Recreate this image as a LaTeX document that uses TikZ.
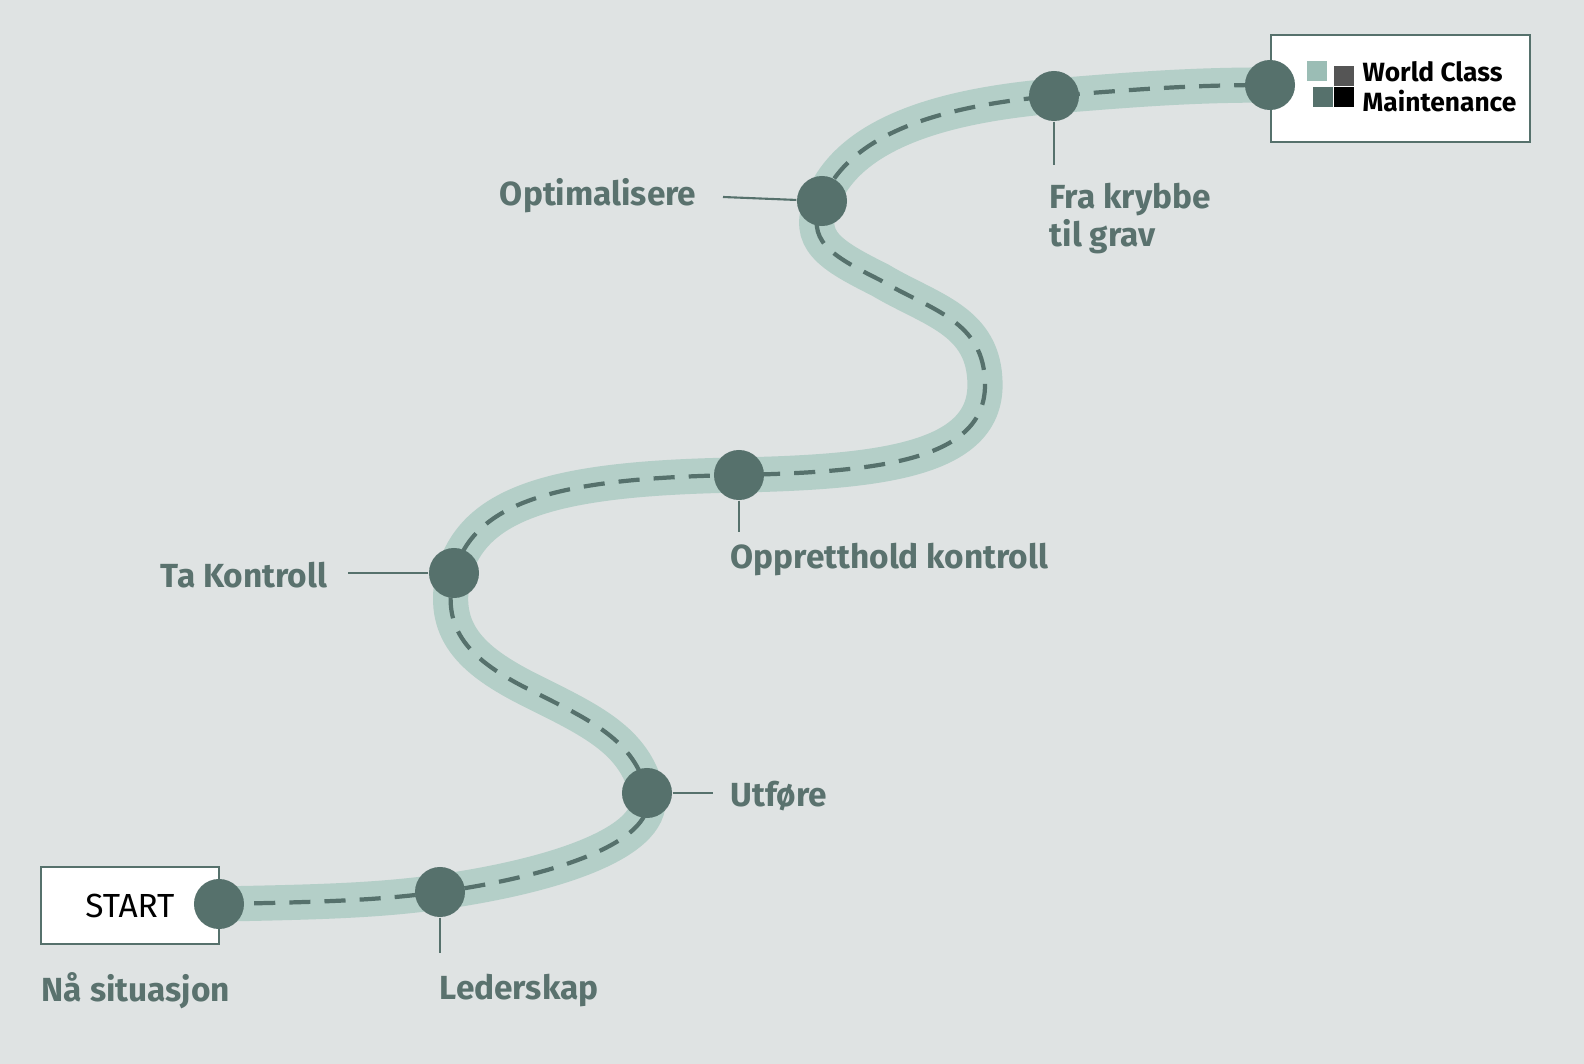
\documentclass[tikz,border=0pt]{standalone}
\usepackage{fontspec}
\setmainfont{Fira Sans}
\usetikzlibrary{positioning}
\definecolor{bg}{HTML}{DFE3E3}
\definecolor{band}{HTML}{B4CFC8}
\definecolor{dotc}{HTML}{56716C}
\definecolor{txt}{HTML}{5A726E}
\definecolor{sqlight}{HTML}{9BBDB5}
\definecolor{sqgrey}{HTML}{555555}
\tikzset{
  dot/.style={circle, fill=dotc, minimum size=0.5cm, inner sep=0pt},
  lbl/.style={text=txt, font=\fontsize{9.5}{11}\selectfont\bfseries, inner sep=0pt},
  leader/.style={draw=dotc, line width=0.6pt},
  sq/.style={minimum size=0.2cm, inner sep=0pt}
}
\begin{document}
\begin{tikzpicture}[x=0.01cm, y=-0.01cm]
        \fill[bg] (0,0) rectangle (1584,1064);
        \node[draw=dotc, fill=white, line width=0.8pt, minimum width=1.78cm, minimum height=0.77cm] (Start Box) at (130,905.5) {\fontsize{9.5}{11}\selectfont START};
        \node[draw=dotc, fill=white, line width=0.8pt, minimum width=2.59cm, minimum height=1.07cm] (Logo Box) at (1400.5,88.5) {};
        \draw[band, line width=10pt] (219,904) .. controls (330,902) and (380,900) .. (440,892)
            .. controls (560,875) and (660,840) .. (647,793)
            .. controls (635,740) and (590,720) .. (530,690)
            .. controls (470,660) and (440,630) .. (454,573)
            .. controls (475,500) and (560,478) .. (739,475)
            .. controls (880,472) and (985,460) .. (985,385)
            .. controls (985,320) and (930,310) .. (880,280)
            .. controls (830,255) and (805,240) .. (822,201)
            .. controls (850,130) and (950,105) .. (1054,96)
            .. controls (1150,88) and (1200,85) .. (1270,85);
        \draw[dotc, line width=1.2pt, dash pattern=on 6pt off 4pt] (219,904) .. controls (330,902) and (380,900) .. (440,892)
            .. controls (560,875) and (660,840) .. (647,793)
            .. controls (635,740) and (590,720) .. (530,690)
            .. controls (470,660) and (440,630) .. (454,573)
            .. controls (475,500) and (560,478) .. (739,475)
            .. controls (880,472) and (985,460) .. (985,385)
            .. controls (985,320) and (930,310) .. (880,280)
            .. controls (830,255) and (805,240) .. (822,201)
            .. controls (850,130) and (950,105) .. (1054,96)
            .. controls (1150,88) and (1200,85) .. (1270,85);
        \node[dot] (Start) at (219,904) {};
        \node[dot] (Ledelse) at (440,892) {};
        \node[dot] (Utfore) at (647,793) {};
        \node[dot] (Kontroll) at (454,573) {};
        \node[dot] (Oppretthold) at (739,475) {};
        \node[dot] (Optimal) at (822,201) {};
        \node[dot] (Krybbe) at (1054,96) {};
        \node[dot] (End) at (1270,85) {};
        \node[lbl, anchor=west] (Na label) at (41,991) {Nå situasjon};
        \node[lbl, anchor=west] (Ledelse label) at (439,991) {Lederskap};
        \node[lbl, anchor=west] (Utfore label) at (730,796) {Utføre};
        \node[lbl, anchor=east] (Kontroll label) at (328,575) {Ta Kontroll};
        \node[lbl, anchor=west] (Oppretthold label) at (730,560) {Oppretthold kontroll};
        \node[lbl, anchor=east] (Optimal label) at (697,196) {Optimalisere};
        \node[lbl, anchor=north west, align=left] (Krybbe label) at (1049,182) {Fra krybbe\\til grav};
        \coordinate (Ledelse end) at (440,953);
        \coordinate (Utfore end) at (713,793);
        \coordinate (Kontroll end) at (348,573);
        \coordinate (Oppretthold end) at (739,532);
        \coordinate (Optimal end) at (723,197);
        \coordinate (Krybbe end) at (1054,165);
        \draw[leader] (Ledelse) -- (Ledelse end);
        \draw[leader] (Utfore) -- (Utfore end);
        \draw[leader] (Kontroll) -- (Kontroll end);
        \draw[leader] (Oppretthold) -- (Oppretthold end);
        \draw[leader] (Optimal) -- (Optimal end);
        \draw[leader] (Krybbe) -- (Krybbe end);
        \node[sq, fill=sqlight] (Sq A) at (1317,71) {};
        \node[sq, fill=sqgrey] (Sq B) at (1344,76) {};
        \node[sq, fill=dotc] (Sq C) at (1323,97) {};
        \node[sq, fill=black] (Sq D) at (1344,97) {};
        \node[anchor=west, inner sep=0pt, align=left, font=\fontsize{7.5}{8.5}\selectfont\bfseries] (Logo text) at (1362,87) {World Class\\Maintenance};
\end{tikzpicture}
\end{document}
